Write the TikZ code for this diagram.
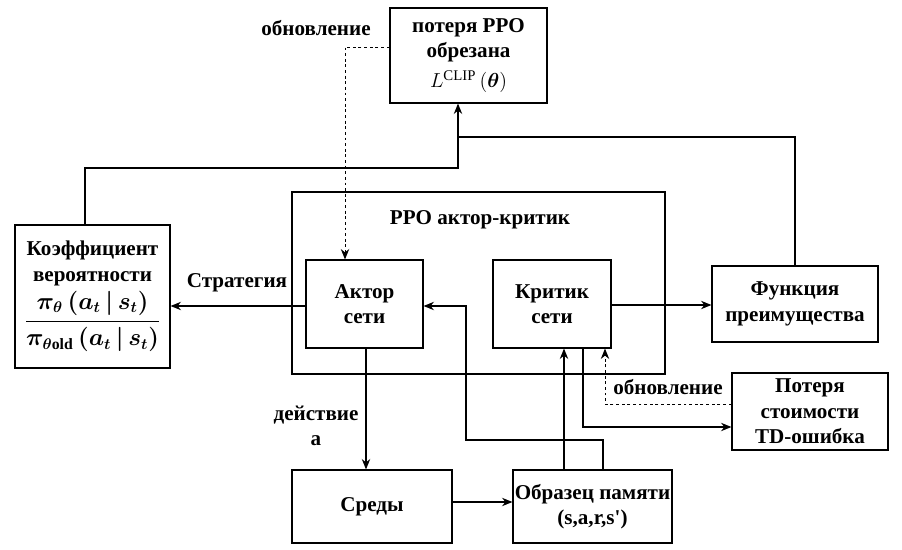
\documentclass[tikz,border=0pt]{standalone}
\usepackage{amsmath}
\usepackage{fontspec}
\setmainfont{Liberation Serif}
\usetikzlibrary{arrows.meta}
\begin{document}
\begin{tikzpicture}[x=0.025cm,y=-0.025cm,font=\bfseries\fontsize{15}{18}\selectfont,
  blk/.style={draw,line width=0.8pt,align=center,inner sep=2pt},
  ln/.style={line width=0.8pt},
  arr/.style={line width=0.8pt,-{Stealth[length=2.6mm,width=2.1mm]}},
  upd/.style={line width=0.7pt,dashed,dash pattern=on 2pt off 2pt,-{Stealth[length=2.6mm,width=2.1mm]}}]
\useasboundingbox (0,0) rectangle (902,550);
% boxes
\node[blk,minimum width=3.925cm,minimum height=2.375cm] (loss) at (468.5,55.5) {потеря PPO\\обрезана\\[3pt]{\mdseries\fontsize{15}{18}\selectfont$L^{\mathrm{CLIP}}\,(\boldsymbol{\theta})$}};
\node[blk,minimum width=3.875cm,minimum height=3.575cm] (ratio) at (92.5,296.5) {Коэффициент\\вероятности\\[3pt]{\fontsize{16}{19}\selectfont\boldmath$\dfrac{\pi_{\theta}\,(a_t\,|\,s_t)}{\pi_{\theta\mathrm{old}}\,(a_t\,|\,s_t)}$}};
\node[draw,line width=0.8pt,minimum width=9.325cm,minimum height=4.55cm] (ppo) at (478.5,283) {};
\node (ppot) at (480,220) {PPO актор-критик};
\node[blk,minimum width=2.925cm,minimum height=2.2cm] (actor) at (364.5,304) {Актор\\сети};
\node[blk,minimum width=2.95cm,minimum height=2.2cm] (critic) at (552,304) {Критик\\сети};
\node[blk,minimum width=4.15cm,minimum height=1.9cm] (adv) at (795,304) {Функция\\преимущества};
\node[blk,minimum width=3.9cm,minimum height=1.925cm] (vloss) at (810,411.5) {Потеря\\стоимости\\TD-ошибка};
\node[blk,minimum width=4cm,minimum height=1.825cm] (env) at (372,506.5) {Среды};
\node[blk,minimum width=3.975cm,minimum height=1.825cm,inner sep=0pt] (mem) at (592.5,506.5) {Образец памяти\\(s,a,r,s\textquotesingle)};
% connectors
\draw[upd] (loss.west |- 0,47) -| (actor.north -| 345,0); \node (upd1) at (316,28) {обновление};
\draw[arr] (ratio.north -| 85,0) |- (458,168) -- (loss.south -| 458,0);
\draw[ln] (adv.north) |- (458,137);
\draw[arr] (actor.west |- 0,306) -- (ratio.east |- 0,306); \node (pol) at (237,283) {Стратегия};
\draw[arr] (critic.east |- 0,305) -- (adv.west |- 0,305);
\draw[arr] (actor.south -| 366,0) -- (env.north -| 366,0); \node[align=center] (act) at (316,426) {действие\\а};
\draw[arr] (env.east |- 0,502) -- (mem.west |- 0,502);
\draw[arr] (mem.north -| 564,0) -- (critic.south -| 564,0);
\draw[arr] (mem.north -| 603,0) |- (466,440) |- (actor.east |- 0,306);
\draw[arr] (critic.south -| 583,0) |- (vloss.west |- 0,427);
\draw[upd] (vloss.west |- 0,404) -| (critic.south -| 605,0); \node (upd2) at (668,387) {обновление};
\end{tikzpicture}
\end{document}
